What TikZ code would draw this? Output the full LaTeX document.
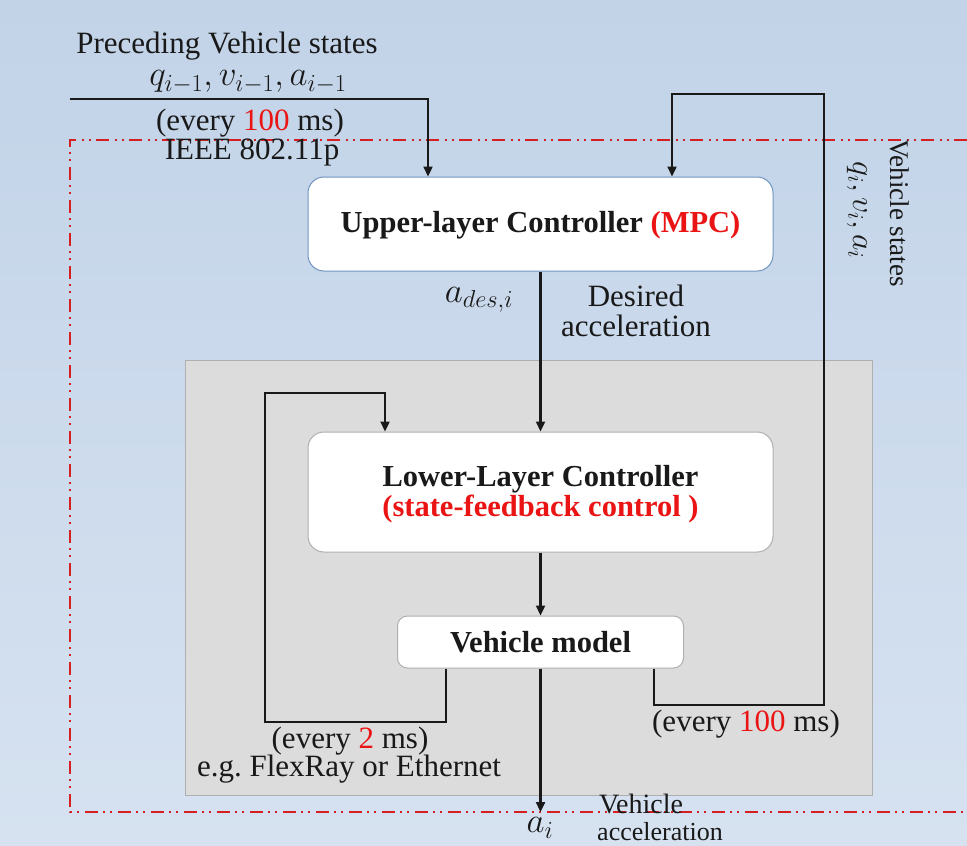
\RequirePackage{fix-cm}
\documentclass[tikz,border=0pt]{standalone}
\usepackage{fontspec}
\setmainfont{Liberation Serif}
\usetikzlibrary{arrows.meta}
\definecolor{bgtop}{RGB}{194,211,232}
\definecolor{bgbot}{RGB}{214,226,240}
\definecolor{myred}{RGB}{235,20,20}
\definecolor{dashred}{RGB}{212,32,32}
\definecolor{boxgray}{RGB}{220,220,220}
\definecolor{grayedge}{RGB}{175,175,175}
\definecolor{upedge}{RGB}{110,148,192}
\definecolor{ink}{RGB}{25,25,25}
\begin{document}
\begin{tikzpicture}[x=1pt,y=-1pt,
  conn/.style={line width=2.3pt, draw=ink},
  arr/.style={conn,-{Triangle[length=10pt,width=9pt]}},
  blk/.style={rounded corners=16pt, fill=white, draw=grayedge, line width=1pt, inner sep=0pt, align=center},
  lbl/.style={font=\fontsize{31}{30}\selectfont, text=ink, align=center, inner sep=0pt},
  mth/.style={lbl, font=\fontsize{35}{36}\selectfont},
  bld/.style={font=\fontsize{30.5}{30}\selectfont\bfseries, text=ink, align=center, inner sep=0pt},
  redline/.style={draw=dashred, line width=1.8pt, dash pattern=on 13pt off 5pt on 2pt off 5pt on 2pt off 6pt}
]
\useasboundingbox (0,0) rectangle (967,846);
\shade[top color=bgtop, bottom color=bgbot] (0,0) rectangle (967,846);

% red dash-dot-dot frame (open on the right)
\draw[redline] (967,140) -- (70,140) -- (70,812) -- (967,812);

% gray lower-layer area
\node[fill=boxgray, draw=grayedge, line width=1pt, minimum width=687pt, minimum height=435pt, inner sep=0pt] (area) at (528.5,577.5) {};

% blocks
\node[blk, draw=upedge, minimum width=465pt, minimum height=94pt] (upper) at (540.5,224) {};
\node[bld] (uppertxt) at (540.5,225) {Upper-layer Controller \textcolor{myred}{(MPC)}};
\node[blk, minimum width=465pt, minimum height=120pt] (lower) at (540.5,492) {};
\node[bld] (lowertxt) at (540.5,494)
  {Lower-Layer Controller\\\textcolor{myred}{(state-feedback control )}};
\node[blk, rounded corners=10pt, minimum width=286pt, minimum height=52pt, bld] (vm) at (540.5,642)
  {Vehicle model};

% coordinates
\coordinate (pin) at (70,99);
\coordinate (fb1) at (824,705);
\coordinate (fb2) at (824,94);
\coordinate (il1) at (265,722);
\coordinate (il2) at (265,393);
\coordinate (out) at (540.5,812);

% connectors
\draw[arr] (pin) -| ([xshift=-112.5pt]upper.north);
\draw[arr] (upper.south) -- (lower.north);
\draw[arr] (lower.south) -- (vm.north);
\draw[arr] (vm.south) -- (out);
\draw[arr] ([xshift=113.5pt]vm.south) |- (fb1) -- (fb2) -| ([xshift=131.5pt]upper.north);
\draw[arr] ([xshift=-94.5pt]vm.south) |- (il1) -- (il2) -| ([xshift=-155.5pt]lower.north);

% labels
\node[lbl] (tprec) at (227,46) {Preceding Vehicle states};
\node[mth] (tqprev) at (248,82) {$q_{i-1}, v_{i-1}, a_{i-1}$};
\node[lbl] (tevery1) at (250,123) {(every \textcolor{myred}{100} ms)};
\node[lbl] (tieee) at (252,152) {IEEE 802.11p};
\node[lbl, font=\fontsize{27}{31}\selectfont, rotate=-90] (tvs) at (900,213) {Vehicle states};
\node[lbl, font=\fontsize{32}{33}\selectfont, rotate=-90] (tqi) at (857,210) {$q_i, v_i, a_i$};
\node[mth] (tades) at (479,300) {$a_{des,i}$};
\node[lbl] (tdes) at (636,311) {Desired\\acceleration};
\node[lbl] (tevery2) at (350,741) {(every \textcolor{myred}{2} ms)};
\node[lbl] (tflex) at (349,769) {e.g.\ FlexRay or Ethernet};
\node[lbl] (tevery3) at (746,724) {(every \textcolor{myred}{100} ms)};
\node[mth] (tai) at (540,828) {$a_i$};
\node[lbl, font=\fontsize{28}{30}\selectfont] (tveh) at (641,804) {Vehicle};
\node[lbl, font=\fontsize{26}{30}\selectfont] (tacc) at (660,832) {acceleration};
\end{tikzpicture}
\end{document}
